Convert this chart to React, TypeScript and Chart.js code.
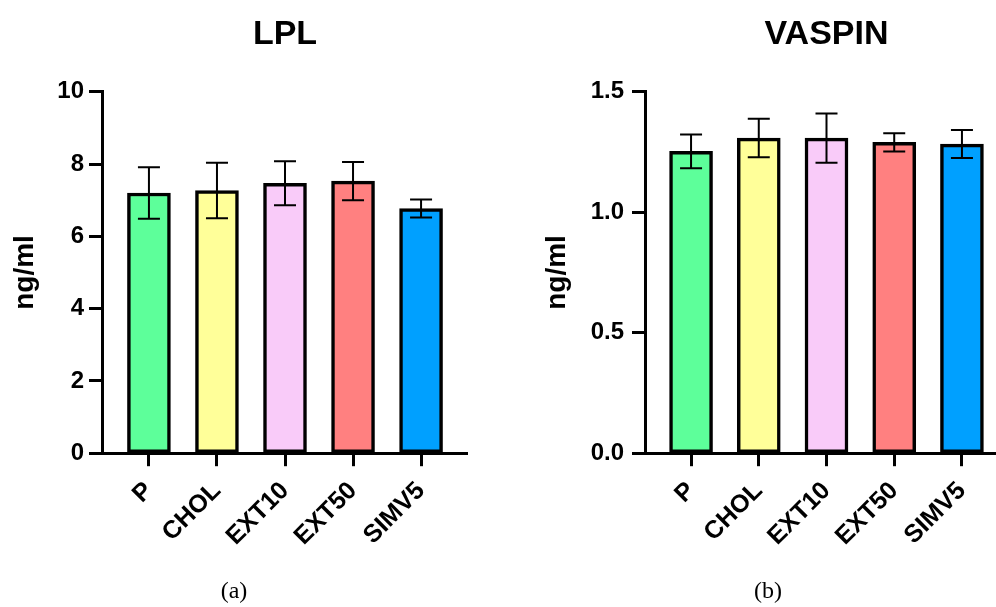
import React, { useEffect, useRef } from "react";
import { Chart, registerables } from "chart.js";

Chart.register(...registerables);

const categories = ["P", "CHOL", "EXT10", "EXT50", "SIMV5"];
const barColors = ["#5dff9a", "#ffff99", "#f9cbf9", "#ff8080", "#00a0ff"];

const lplMeans = [7.2, 7.27, 7.47, 7.53, 6.77];
const lplErrors = [0.71, 0.77, 0.61, 0.53, 0.25];
const lplTicks = [0, 2, 4, 6, 8, 10];

const vaspinMeans = [1.253, 1.308, 1.308, 1.29, 1.283];
const vaspinErrors = [0.07, 0.08, 0.102, 0.038, 0.058];
const vaspinTicks = [0, 0.5, 1.0, 1.5];

const FONT = 'Arial, "Liberation Sans", Helvetica, sans-serif';

const errorBarPlugin = {
  id: "errorBars",
  afterDatasetsDraw(chart: any, _args: any, opts: any) {
    const errors: number[] = opts.errors || [];
    const means: number[] = opts.means || [];
    const xs = chart.scales.x;
    const ys = chart.scales.y;
    const ctx = chart.ctx;
    ctx.save();
    ctx.strokeStyle = "#000";
    ctx.lineWidth = 2;
    const capHalf = 11;
    means.forEach((m, i) => {
      const x = xs.getPixelForValue(i);
      const yt = ys.getPixelForValue(m + errors[i]);
      const yb = ys.getPixelForValue(m - errors[i]);
      ctx.beginPath();
      ctx.moveTo(x, yt);
      ctx.lineTo(x, yb);
      ctx.moveTo(x - capHalf, yt);
      ctx.lineTo(x + capHalf, yt);
      ctx.moveTo(x - capHalf, yb);
      ctx.lineTo(x + capHalf, yb);
      ctx.stroke();
    });
    ctx.restore();
  },
};

type PanelProps = {
  left: number;
  width: number;
  title: string;
  sub: string;
  means: number[];
  errors: number[];
  ticks: number[];
  yMax: number;
  yAxisWidth: number;
  yTitlePad: number;
  yTickPad: number;
  xMin: number;
  xMax: number;
  decimals: number;
};

function Panel(p: PanelProps) {
  const ref = useRef<HTMLCanvasElement | null>(null);
  useEffect(() => {
    if (!ref.current) return;
    const chart = new Chart(ref.current, {
      type: "bar",
      data: {
        datasets: [
          {
            data: p.means.map((v, i) => ({ x: i, y: v })),
            backgroundColor: barColors,
            borderColor: "#000",
            borderWidth: 3.5,
            borderSkipped: false,
            barThickness: 43,
          } as any,
        ],
      },
      plugins: [errorBarPlugin],
      options: {
        responsive: false,
        animation: false,
        devicePixelRatio: 1,
        layout: { padding: 0 },
        scales: {
          x: {
            type: "linear",
            offset: false,
            min: p.xMin,
            max: p.xMax,
            afterBuildTicks: (scale: any) => {
              scale.ticks = categories.map((_, i) => ({ value: i }));
            },
            afterFit: (scale: any) => {
              scale.height = 124;
            },
            ticks: {
              autoSkip: false,
              minRotation: 45,
              maxRotation: 45,
              padding: 10,
              color: "#000",
              font: { family: FONT, size: 25, weight: "bold" },
              callback: (v: any) => categories[Math.round(Number(v))],
            },
            grid: {
              display: true,
              offset: false,
              drawOnChartArea: false,
              drawTicks: true,
              tickLength: 13,
              tickWidth: 3,
              tickColor: "#000",
              color: "#000",
            },
            border: { display: true, width: 3, color: "#000" },
          },
          y: {
            type: "linear",
            min: 0,
            max: p.yMax,
            afterBuildTicks: (scale: any) => {
              scale.ticks = p.ticks.map((v) => ({ value: v }));
            },
            afterFit: (scale: any) => {
              scale.width = p.yAxisWidth;
            },
            ticks: {
              padding: p.yTickPad,
              color: "#000",
              font: { family: FONT, size: 24, weight: "bold" },
              callback: (v: any) => Number(v).toFixed(p.decimals),
            },
            grid: {
              display: true,
              drawOnChartArea: false,
              drawTicks: true,
              tickLength: 13,
              tickWidth: 3,
              tickColor: "#000",
              color: "#000",
            },
            border: { display: true, width: 3, color: "#000" },
            title: {
              display: true,
              text: "ng/ml",
              color: "#000",
              font: { family: FONT, size: 28, weight: "bold" },
              padding: { top: p.yTitlePad, bottom: 0 },
            },
          },
        },
        plugins: {
          legend: { display: false },
          tooltip: { enabled: false },
          title: {
            display: true,
            text: p.title,
            fullSize: false,
            color: "#000",
            font: { family: FONT, size: 34, weight: "bold", lineHeight: 1.2 },
            padding: { top: 14, bottom: 37 },
          },
          subtitle: {
            display: true,
            text: p.sub,
            position: "bottom",
            color: "#000",
            font: { family: '"Liberation Serif", "Times New Roman", serif', size: 24, weight: "normal", lineHeight: 1.2 },
            padding: { top: 0, bottom: 1 },
          },
          errorBars: { means: p.means, errors: p.errors },
        } as any,
      },
    });
    return () => chart.destroy();
  }, []);
  return (
    <canvas
      ref={ref}
      width={p.width}
      height={607}
      style={{ position: "absolute", left: p.left, top: 0, width: p.width, height: 607 }}
    />
  );
}

export default function App() {
  return (
    <div
      style={{
        position: "fixed",
        left: 0,
        top: 0,
        width: 996,
        height: 607,
        overflow: "hidden",
        background: "#fff",
      }}
    >
      <Panel
        left={0}
        width={468}
        title="LPL"
        sub="(a)"
        means={lplMeans}
        errors={lplErrors}
        ticks={lplTicks}
        yMax={10}
        yAxisWidth={102}
        yTitlePad={8}
        yTickPad={5}
        xMin={-0.69}
        xMax={4.69}
        decimals={0}
      />
      <Panel
        left={528}
        width={480}
        title="VASPIN"
        sub="(b)"
        means={vaspinMeans}
        errors={vaspinErrors}
        ticks={vaspinTicks}
        yMax={1.5}
        yAxisWidth={117}
        yTitlePad={12}
        yTickPad={8}
        xMin={-0.68}
        xMax={4.68}
        decimals={1}
      />
    </div>
  );
}
